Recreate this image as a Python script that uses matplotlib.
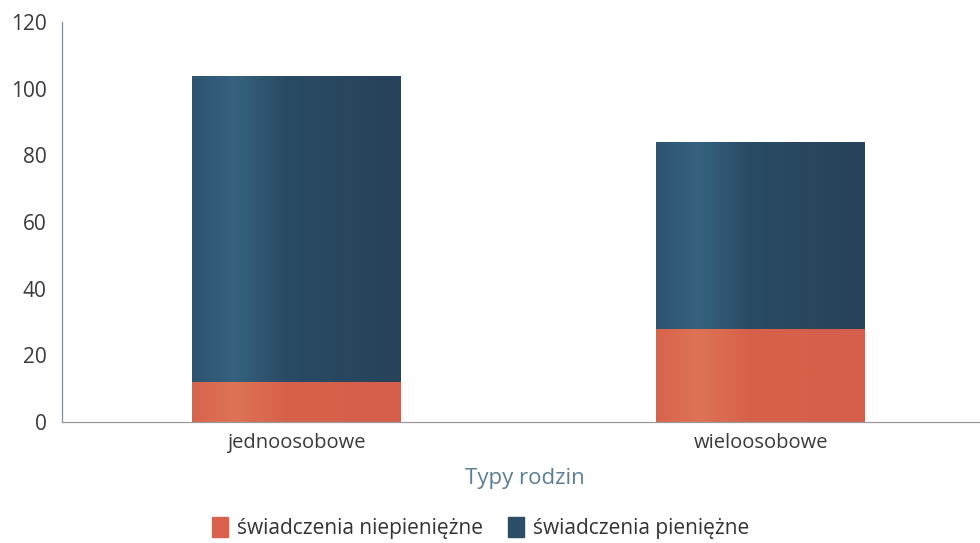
import numpy as np
import matplotlib.pyplot as plt
from matplotlib.patches import Patch
from matplotlib.colors import LinearSegmentedColormap

plt.rcParams['font.family'] = ['Open Sans', 'DejaVu Sans']

# data
categories = ['jednoosobowe', 'wieloosobowe']
niepieniezne = [12, 28]
pieniezne = [92, 56]
ticks = [0, 20, 40, 60, 80, 100, 120]

red = '#d8624c'
blue = '#2b4d66'

# horizontal shading like the scanned bars (lighter stripe on the left)
blue_cm = LinearSegmentedColormap.from_list(
    'b', [(0, '#2d5470'), (0.2, '#36627f'), (0.45, '#2a4b64'), (1, '#27425a')])
red_cm = LinearSegmentedColormap.from_list(
    'r', [(0, '#d8634d'), (0.2, '#dd7354'), (0.45, '#d8614b'), (1, '#d65f4b')])
grad = np.linspace(0, 1, 256).reshape(1, -1)

fig = plt.figure(figsize=(9.8, 5.43), dpi=100)
ax = fig.add_axes([0.063, 0.223, 0.937, 0.736])

x = np.arange(len(categories))
w = 0.45
b1 = ax.bar(x, niepieniezne, width=w, color=red)
b2 = ax.bar(x, pieniezne, width=w, bottom=niepieniezne, color=blue)

for bars, cm in [(b1, red_cm), (b2, blue_cm)]:
    for p in bars:
        x0, y0 = p.get_x(), p.get_y()
        im = ax.imshow(grad, cmap=cm, aspect='auto', zorder=p.get_zorder() + 0.1,
                       extent=[x0, x0 + p.get_width(), y0, y0 + p.get_height()])
        im.set_clip_path(p)

ax.set_xlim(-0.506, 1.472)
ax.set_ylim(0, 120)
ax.set_yticks(ticks)
ax.set_xticks(x)
ax.set_xticklabels(categories)
ax.tick_params(length=0, labelsize=14.5, colors='#3a3a3a', pad=8)
ax.tick_params(axis='y', labelsize=15, pad=11)

for s in ['top', 'right']:
    ax.spines[s].set_visible(False)
ax.spines['left'].set_color('#7d8d99')
ax.spines['left'].set_linewidth(0.9)
ax.spines['bottom'].set_color('#9a9a9a')
ax.spines['bottom'].set_linewidth(0.9)

ax.set_xlabel('Typy rodzin', fontsize=16, color='#5d7f94')
ax.xaxis.set_label_coords(0.504, -0.115)

handles = [Patch(color=red, label='świadczenia niepieniężne'),
           Patch(color=blue, label='świadczenia pieniężne')]
fig.legend(handles=handles, loc='center', bbox_to_anchor=(0.49, 0.028),
           ncol=2, frameon=False, fontsize=15, handlelength=0.8,
           handleheight=1.1, handletextpad=0.4, columnspacing=1.2,
           labelcolor='#333333')

fig.savefig('out.png', dpi=100)
